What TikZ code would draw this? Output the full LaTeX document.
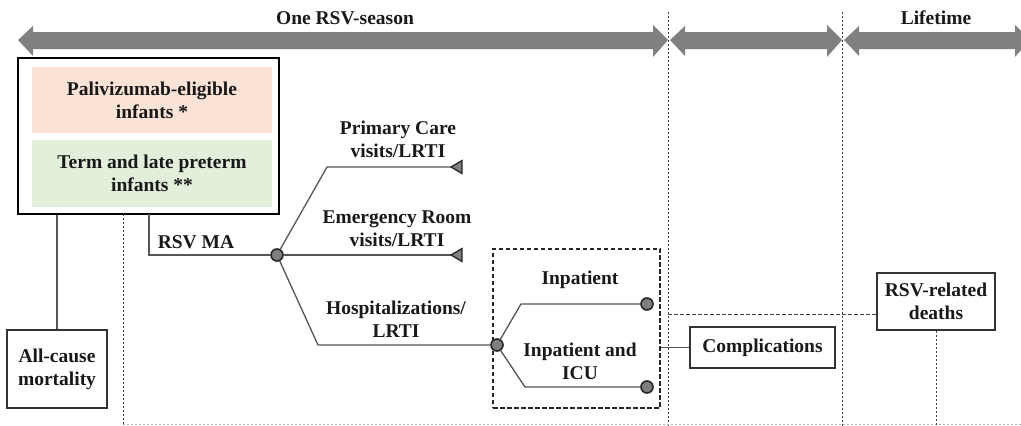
\documentclass[tikz,border=0pt]{standalone}
\usepackage{fontspec}
\setmainfont{Liberation Serif}
\definecolor{bandgray}{HTML}{808080}
\definecolor{pinkfill}{HTML}{FBE3D6}
\definecolor{greenfill}{HTML}{E2EFDA}
\definecolor{linegray}{HTML}{555555}
\definecolor{nodegray}{HTML}{7F7F7F}
\begin{document}
\begin{tikzpicture}[x=1pt,y=-1pt,
  txt/.style={font=\fontsize{19.5}{23}\selectfont\bfseries, align=center, text=black!90, inner sep=0pt},
  boxnode/.style={txt, draw=black!80, line width=1.2pt, fill=white},
  fillbox/.style={txt, minimum width=240pt},
  branch/.style={draw=linegray, line width=1.3pt},
  chance/.style={circle, draw=black!85, fill=nodegray, line width=1.6pt, minimum size=12pt, inner sep=0pt},
  timeline/.style={draw=black!75, line width=1pt, dash pattern=on 2pt off 2pt},
  hdash/.style={draw=black!75, line width=1pt, dash pattern=on 3.5pt off 2.5pt},
  bigarrow/.style={fill=bandgray}
]
\useasboundingbox (0,0) rectangle (1021,426);

% big timeline arrows
\fill[bigarrow] (18,40) -- (33,26) -- (33,32) -- (653,32) -- (653,25) -- (668,40) -- (653,57) -- (653,49) -- (33,49) -- (33,56) -- cycle;
\fill[bigarrow] (670,40) -- (685,26) -- (685,32) -- (827,32) -- (827,25) -- (842,40) -- (827,57) -- (827,49) -- (685,49) -- (685,56) -- cycle;
\fill[bigarrow] (844,40) -- (859,26) -- (859,32) -- (1015,32) -- (1015,25) -- (1030,40) -- (1015,57) -- (1015,49) -- (859,49) -- (859,56) -- cycle;
\node[txt] (season) at (345,18) {One RSV-season};
\node[txt] (life) at (936,18) {Lifetime};

% vertical timeline separators
\coordinate (s1t) at (668,12); \coordinate (s1b) at (668,426);
\coordinate (s2t) at (842,12); \coordinate (s2b) at (842,426);
\draw[timeline] (s1t) -- (s1b);
\draw[timeline] (s2t) -- (s2b);

% population box
\node[draw=black, line width=2pt, minimum width=261pt, minimum height=156pt, inner sep=0pt] (outer) at (148.5,136) {};
\node[fillbox, fill=pinkfill, minimum height=66pt] (pali) at (152,100) {Palivizumab-eligible\\infants *};
\node[fillbox, fill=greenfill, minimum height=67pt] (term) at (152,173.5) {Term and late preterm\\infants **};

% all-cause mortality
\node[boxnode, minimum width=100pt, minimum height=78pt] (allc) at (57,369) {All-cause\\mortality};
\draw[branch] (outer.south -| allc.north) -- (allc.north);

\coordinate (d1t) at (123,214); \coordinate (d1b) at (123,426);
\draw[timeline] (d1t) -- (d1b);
\coordinate (bl) at (123,424); \coordinate (br) at (1021,424);
\draw[timeline, draw=black!30] (bl) -- (br);

% RSV MA tree
\node[chance] (c1) at (277,255) {};
\coordinate (ma) at (149,214);
\draw[branch] (ma) |- (c1);
\node[txt] (malab) at (196,242) {RSV MA};

\coordinate (t1) at (451,167);
\coordinate (t2) at (451,255);
\draw[branch] (c1) -- (327,167) -- (t1);
\draw[branch] (c1) -- (t2);
\filldraw[draw=black!85, fill=nodegray, line width=1.3pt] (t1) -- ++(11,-6.5) -- ++(0,13) -- cycle;
\filldraw[draw=black!85, fill=nodegray, line width=1.3pt] (t2) -- ++(11,-6.5) -- ++(0,13) -- cycle;
\node[txt] (pc) at (398,139) {Primary Care\\visits/LRTI};
\node[txt] (er) at (397,229) {Emergency Room\\visits/LRTI};
\node[txt] (hosp) at (396,319) {Hospitalizations/\\LRTI};

% hospitalization sub-tree
\node[draw=black!85, line width=2pt, dash pattern=on 4.5pt off 2.5pt, minimum width=167pt, minimum height=159pt, inner sep=0pt] (dbox) at (576.5,328) {};
\node[chance] (c2) at (497,345) {};
\draw[branch] (c1) -- (318,345) -- (c2);
\node[chance] (c3) at (647,304) {};
\node[chance] (c4) at (647,387) {};
\draw[branch] (c2) -- (521,304) -- (c3);
\draw[branch] (c2) -- (525,387) -- (c4);
\node[txt] (inp) at (580,280) {Inpatient};
\node[txt] (icu) at (580,361.5) {Inpatient and\\ICU};

% complications
\node[boxnode, minimum width=145pt, minimum height=41pt] (comp) at (762.5,347.5) {Complications};
\draw[branch] (dbox.east |- comp.west) -- (comp.west);

% RSV-related deaths
\node[boxnode, minimum width=118pt, minimum height=57pt] (rd) at (936,301.5) {RSV-related\\deaths};
\coordinate (hd) at (668,314);
\draw[hdash] (hd) -- (hd -| rd.west);
\coordinate (rdb) at (rd.south |- 0,426);
\draw[timeline] (rd.south) -- (rdb);
\end{tikzpicture}
\end{document}
